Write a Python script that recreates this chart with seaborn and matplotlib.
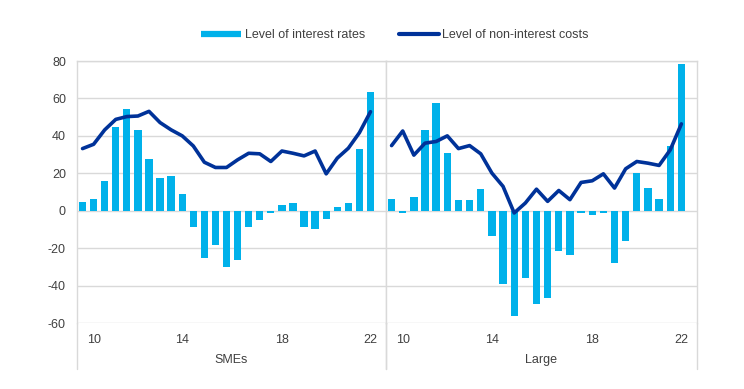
import matplotlib
matplotlib.use("Agg")
import matplotlib.pyplot as plt
import numpy as np
import pandas as pd
import seaborn as sns
from matplotlib.lines import Line2D

# ---- data ----
sme_rates = [4.6, 6.4, 16.0, 44.6, 54.5, 43.2, 27.7, 17.6, 18.8, 8.9,
             -8.7, -25.2, -18.1, -30.0, -26.1, -8.9, -5.0, -1.2, 2.8, 4.1,
             -8.9, -9.8, -4.4, 2.0, 3.9, 32.9, 63.2]
sme_costs = [33.2, 35.5, 43.2, 48.8, 50.3, 50.6, 53.1, 47.1, 43.2, 40.0,
             34.6, 25.9, 23.1, 23.1, 27.2, 30.7, 30.4, 26.3, 31.9, 30.7,
             29.3, 31.9, 19.7, 28.1, 33.4, 41.7, 52.9]
large_rates = [6.4, -1.0, 7.5, 43.2, 57.5, 30.7, 5.7, 5.9, 11.4, -13.3,
               -39.4, -56.3, -35.9, -49.7, -46.7, -21.3, -23.8, -1.2, -2.1, -1.0,
               -27.9, -16.2, 20.4, 12.4, 6.4, 34.6, 78.3]
large_costs = [34.8, 42.6, 29.7, 36.1, 37.0, 40.0, 33.2, 34.8, 30.4, 20.1,
               13.0, -1.2, 4.1, 11.5, 5.0, 10.8, 5.9, 15.1, 16.0, 19.7,
               12.1, 22.4, 26.3, 25.4, 24.2, 32.5, 46.4]
tick_positions = [1, 9, 18, 26]
tick_labels = ["10", "14", "18", "22"]
panels = ["SMEs", "Large"]
series_names = ["Level of interest rates", "Level of non-interest costs"]

BAR = "#00B1EA"
LINE = "#003299"
GRID = "#d9d9d9"
TXT = "#404040"
FS = 9

sns.set_theme(style="white")
plt.rcParams['font.family'] = ['Liberation Sans', 'DejaVu Sans']
plt.rcParams['axes.unicode_minus'] = False

fig = plt.figure(figsize=(7.44, 3.89), dpi=100)
left, mid, right = 77 / 744, 386 / 744, 697 / 744
bottom, top = 1 - 323 / 389, 1 - 61 / 389
ax1 = fig.add_axes([left, bottom, mid - left, top - bottom])
ax2 = fig.add_axes([mid, bottom, right - mid, top - bottom], sharey=ax1)

for ax, rates, costs, name in [(ax1, sme_rates, sme_costs, panels[0]),
                               (ax2, large_rates, large_costs, panels[1])]:
    df = pd.DataFrame({"idx": np.arange(len(rates)), "rates": rates, "costs": costs})
    sns.barplot(data=df, x="idx", y="rates", color=BAR, saturation=1,
                width=0.66, linewidth=0, ax=ax, zorder=2)
    sns.lineplot(data=df, x="idx", y="costs", color=LINE, lw=2.6, ax=ax, zorder=3)
    ax.set_xlim(-0.5, 27.4)
    ax.set_ylim(-60, 80)
    ax.set_yticks(np.arange(-60, 81, 20))
    ax.yaxis.grid(True, color=GRID, lw=1)
    ax.set_axisbelow(True)
    ax.set_xticks(tick_positions)
    ax.set_xticklabels(tick_labels)
    ax.tick_params(axis='both', length=0, labelsize=FS, labelcolor=TXT)
    ax.tick_params(axis='x', pad=8)
    ax.tick_params(axis='y', pad=8)
    ax.set_xlabel(name, fontsize=FS, color=TXT, labelpad=6)
    ax.set_ylabel("")
    for s in ["top", "left", "right"]:
        ax.spines[s].set_color(GRID)
        ax.spines[s].set_linewidth(1)
    ax.spines["bottom"].set_visible(False)
    for xx in (0, 1):
        ax.plot([xx, xx], [0, -0.176], transform=ax.transAxes, clip_on=False,
                color=GRID, lw=1)

ax2.tick_params(axis='y', labelleft=False)

handles = [Line2D([], [], color=BAR, lw=4.5, solid_capstyle='butt'),
           Line2D([], [], color=LINE, lw=3, solid_capstyle='round')]
fig.legend(handles, series_names, loc='center', bbox_to_anchor=(395 / 744, 1 - 35 / 389),
           ncol=2, frameon=False, fontsize=FS, handlelength=3.2,
           columnspacing=2.7, handletextpad=0.3, labelcolor=TXT)

fig.savefig("out.png", dpi=100)
